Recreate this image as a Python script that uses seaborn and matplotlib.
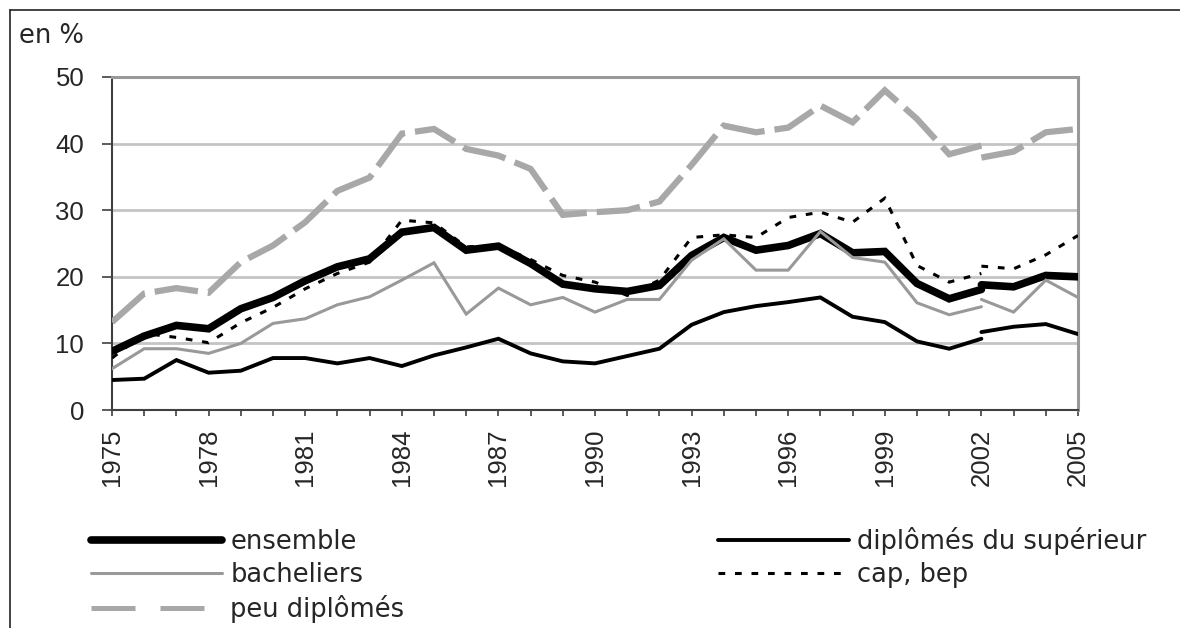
import pandas as pd
import matplotlib.pyplot as plt
from matplotlib.lines import Line2D
import seaborn as sns

# Years: the series break in 2002 (two values that year)
years_a = list(range(1975, 2003))
years_b = [2002, 2003, 2004, 2005]
tick_years = list(range(1975, 2006, 3))
y_ticks = [0, 10, 20, 30, 40, 50]

ensemble_a = [8.8, 11.1, 12.7, 12.2, 15.2, 16.9, 19.4, 21.5, 22.7, 26.7,
              27.4, 24.0, 24.6, 22.0, 18.9, 18.2, 17.8, 18.7, 23.2, 25.9,
              24.0, 24.7, 26.5, 23.6, 23.8, 19.0, 16.7, 18.1]
ensemble_b = [18.8, 18.5, 20.2, 20.0]

superieur_a = [4.5, 4.7, 7.5, 5.6, 5.9, 7.8, 7.8, 7.0, 7.8, 6.6,
               8.2, 9.4, 10.7, 8.5, 7.3, 7.0, 8.1, 9.2, 12.8, 14.7,
               15.6, 16.2, 16.9, 14.0, 13.2, 10.3, 9.2, 10.7]
superieur_b = [11.7, 12.5, 12.9, 11.4]

bacheliers_a = [6.2, 9.2, 9.2, 8.5, 10.0, 13.0, 13.7, 15.8, 17.0, 19.5,
                22.1, 14.4, 18.3, 15.8, 16.9, 14.7, 16.6, 16.6, 22.5, 25.7,
                21.0, 21.0, 26.8, 22.9, 22.2, 16.1, 14.3, 15.5]
bacheliers_b = [16.6, 14.7, 19.5, 16.9]

cap_a = [7.8, 11.5, 10.9, 10.1, 13.1, 15.4, 18.2, 20.5, 22.2, 28.5,
         28.1, 24.5, 24.7, 22.6, 20.2, 19.2, 17.2, 19.5, 25.9, 26.3,
         25.9, 28.9, 29.7, 28.2, 31.8, 21.7, 19.2, 20.5]
cap_b = [21.6, 21.2, 23.3, 26.2]

peu_a = [13.2, 17.5, 18.3, 17.6, 22.2, 24.7, 28.2, 32.9, 34.9, 41.5,
         42.2, 39.2, 38.2, 36.2, 29.3, 29.7, 30.0, 31.3, 36.8, 42.7,
         41.7, 42.4, 45.7, 43.2, 48.0, 43.7, 38.4, 39.7]
peu_b = [37.9, 38.8, 41.7, 42.2]

series = [
    ('cap, bep', cap_a, cap_b, dict(color='black', linewidth=2.2, linestyle=(0, (2.2, 3.2)), zorder=3)),
    ('ensemble', ensemble_a, ensemble_b, dict(color='black', linewidth=5.5, linestyle='-', zorder=4)),
    ('bacheliers', bacheliers_a, bacheliers_b, dict(color='#999999', linewidth=2.2, linestyle='-', zorder=5)),
    ('diplômés du supérieur', superieur_a, superieur_b, dict(color='black', linewidth=2.8, linestyle='-', zorder=5)),
    ('peu diplômés', peu_a, peu_b, dict(color='#a8a8a8', linewidth=4.5, linestyle=(0, (7, 1.6)), zorder=5)),
]

sns.set_style('white')
plt.rcParams['font.family'] = ['DejaVu Sans']

fig = plt.figure(figsize=(11.8, 6.28), dpi=100)
ax = fig.add_axes([112 / 1180, 1 - 410 / 628, 966 / 1180, 333 / 628])

for name, vals_a, vals_b, st in series:
    for yrs, vals, lab in ((years_a, vals_a, name), (years_b, vals_b, '_nolegend_')):
        d = pd.DataFrame({'annee': yrs, 'taux': vals})
        sns.lineplot(data=d, x='annee', y='taux', ax=ax, label=lab,
                     solid_joinstyle='miter', dash_joinstyle='miter', **st)

ax.set_xlim(1975, 2005)
ax.set_ylim(0, 50)
ax.set_xlabel('')
ax.set_ylabel('')

all_years = list(range(1975, 2006))
ax.set_xticks(all_years)
ax.set_xticklabels([str(y) if y in tick_years else '' for y in all_years],
                   rotation=90, fontsize=18.5, family='Liberation Sans')
ax.set_yticks(y_ticks)
ax.set_yticklabels([str(v) for v in y_ticks], fontsize=18.5, family='Liberation Sans')
ax.tick_params(axis='x', length=4.5, width=1.2, color='#404040', pad=9, bottom=True)
ax.tick_params(axis='y', length=7, width=1.2, color='#404040', pad=13, left=True)

ax.yaxis.grid(True, color='#c4c4c4', linewidth=2)
ax.xaxis.grid(False)
ax.set_axisbelow(True)

for side in ['top', 'right']:
    ax.spines[side].set_color('#999999')
    ax.spines[side].set_linewidth(2.2)
for side in ['left', 'bottom']:
    ax.spines[side].set_color('#404040')
    ax.spines[side].set_linewidth(1.5)

if ax.get_legend() is not None:
    ax.get_legend().remove()

handles, labels = ax.get_legend_handles_labels()
hmap = dict(zip(labels, handles))
order = ['ensemble', 'bacheliers', 'peu diplômés', 'diplômés du supérieur', 'cap, bep']
leg = fig.legend([hmap[k] for k in order], order, ncol=2, loc='upper left',
                 bbox_to_anchor=(91 / 1180, 1 - 527 / 628), frameon=False,
                 fontsize=18.5, handlelength=5.1, handletextpad=0.32,
                 columnspacing=12.2, labelspacing=0.28, borderpad=0, borderaxespad=0)
for ln in leg.get_lines():
    if ln.get_label() == 'peu diplômés':
        ln.set_linewidth(3.6)
        ln.set_linestyle((0, (8.8, 5.0)))

fig.text(19 / 1180, 1 - 43 / 628, 'en %', fontsize=18.5, va='baseline', ha='left')

# outer frame (top and left edges)
fig.add_artist(Line2D([10 / 1180, 1], [1 - 10 / 628, 1 - 10 / 628], color='#222222', linewidth=1.2))
fig.add_artist(Line2D([10 / 1180, 10 / 1180], [0, 1 - 10 / 628], color='#222222', linewidth=1.2))

fig.savefig('out.png', dpi=100)
